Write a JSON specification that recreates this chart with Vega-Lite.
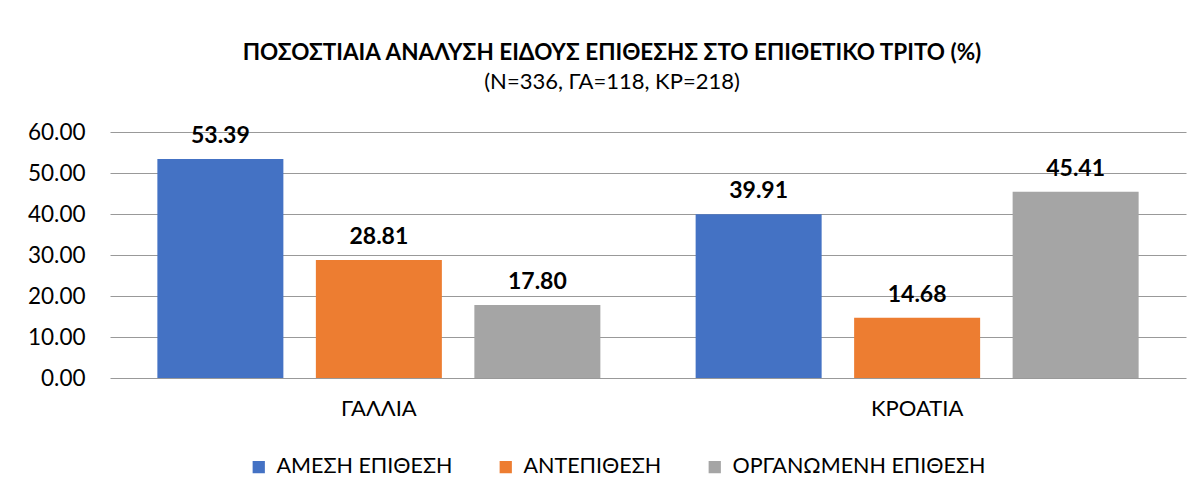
{
  "$schema": "https://vega.github.io/schema/vega-lite/v6.json",
  "autosize": {"type": "none"},
  "padding": {"left": 110, "top": 132, "right": 13, "bottom": 123},
  "width": 1076,
  "height": 246,
  "background": "white",
  "config": {
    "font": "Lato",
    "view": {"stroke": null}
  },
  "title": {
    "text": "ΠΟΣΟΣΤΙΑΙΑ ΑΝΑΛΥΣΗ ΕΙΔΟΥΣ ΕΠΙΘΕΣΗΣ ΣΤΟ ΕΠΙΘΕΤΙΚΟ ΤΡΙΤΟ (%)",
    "subtitle": "(Ν=336, ΓΑ=118, ΚΡ=218)",
    "font": "Lato",
    "fontSize": 22.5,
    "fontWeight": "bold",
    "color": "#000000",
    "subtitleFont": "Lato",
    "subtitleFontSize": 22,
    "subtitleColor": "#000000",
    "subtitlePadding": 8,
    "anchor": "middle",
    "frame": "group",
    "dx": -36,
    "offset": 28
  },
  "data": {
    "values": [
      {"country": "ΓΑΛΛΙΑ", "type": "ΑΜΕΣΗ ΕΠΙΘΕΣΗ", "value": 53.39},
      {"country": "ΓΑΛΛΙΑ", "type": "ΑΝΤΕΠΙΘΕΣΗ", "value": 28.81},
      {"country": "ΓΑΛΛΙΑ", "type": "ΟΡΓΑΝΩΜΕΝΗ ΕΠΙΘΕΣΗ", "value": 17.80},
      {"country": "ΚΡΟΑΤΙΑ", "type": "ΑΜΕΣΗ ΕΠΙΘΕΣΗ", "value": 39.91},
      {"country": "ΚΡΟΑΤΙΑ", "type": "ΑΝΤΕΠΙΘΕΣΗ", "value": 14.68},
      {"country": "ΚΡΟΑΤΙΑ", "type": "ΟΡΓΑΝΩΜΕΝΗ ΕΠΙΘΕΣΗ", "value": 45.41}
    ]
  },
  "encoding": {
    "x": {
      "field": "country",
      "type": "nominal",
      "sort": null,
      "scale": {"paddingInner": 0.177, "paddingOuter": 0.088},
      "axis": {
        "title": null,
        "labelAngle": 0,
        "labelFontSize": 22,
        "labelFont": "Lato",
        "labelColor": "#000000",
        "labelPadding": 20,
        "ticks": false,
        "domain": false
      }
    },
    "xOffset": {
      "field": "type",
      "type": "nominal",
      "sort": null,
      "scale": {"paddingInner": 0.205, "paddingOuter": 0}
    },
    "y": {
      "field": "value",
      "type": "quantitative",
      "scale": {"domain": [0, 60], "nice": false},
      "axis": {
        "title": null,
        "values": [0, 10, 20, 30, 40, 50, 60],
        "format": ".2f",
        "labelFontSize": 22.5,
        "labelFont": "Lato",
        "labelColor": "#000000",
        "labelPadding": 25,
        "ticks": false,
        "domain": false,
        "grid": true,
        "gridColor": "#999999",
        "gridWidth": 1
      }
    }
  },
  "layer": [
    {
      "mark": {"type": "bar"},
      "encoding": {
        "color": {
          "field": "type",
          "type": "nominal",
          "sort": null,
          "scale": {"range": ["#4472C4", "#ED7D31", "#A5A5A5"]},
          "legend": {
            "title": null,
            "orient": "none",
            "direction": "horizontal",
            "legendX": 138,
            "legendY": 324,
            "symbolType": "square",
            "symbolSize": 150,
            "symbolStrokeWidth": 0,
            "labelFontSize": 21.5,
            "labelFont": "Lato",
            "labelColor": "#000000",
            "labelOffset": 7,
            "columnPadding": 42,
            "labelLimit": 400
          }
        }
      }
    },
    {
      "mark": {
        "type": "text",
        "baseline": "alphabetic",
        "dy": -16,
        "fontSize": 23,
        "fontWeight": "bold",
        "font": "Lato",
        "color": "#000000"
      },
      "encoding": {
        "text": {"field": "value", "type": "quantitative", "format": ".2f"}
      }
    }
  ]
}
